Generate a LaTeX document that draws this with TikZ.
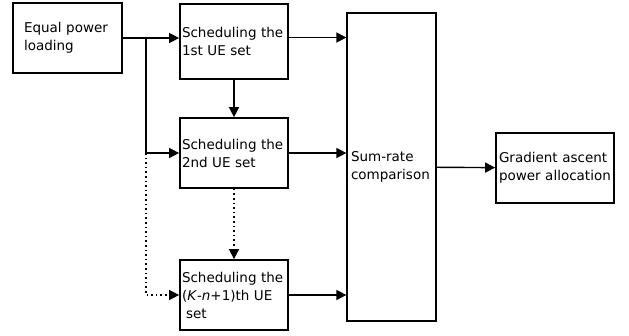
\documentclass[tikz,border=0pt]{standalone}
\usepackage{fontspec}
\setmainfont{DejaVu Sans}
\usepackage{tikz}
\usetikzlibrary{arrows.meta, positioning}

\tikzset{
    blk/.style={draw, line width=1.7pt, align=left, inner ysep=0pt,
        font=\fontsize{13.5}{18}\selectfont},
    arr/.style={-{Triangle[length=10pt,width=10pt]}, line width=1.4pt},
    dotarr/.style={arr, dash pattern=on 1.6pt off 3pt},
}

\begin{document}
\begin{tikzpicture}[x=1pt, y=-1pt]
    \useasboundingbox (0,0) rectangle (629,335);

    \node[blk, minimum width=109pt, minimum height=70pt, text width=87pt, inner xsep=11pt] (epl) at (67.5,38) {Equal power\\loading};
    \node[blk, minimum width=108pt, minimum height=75pt, text width=104pt, inner xsep=2pt] (s1) at (234,41.5) {Scheduling the\\1st UE set};
    \node[blk, minimum width=108pt, minimum height=70pt, text width=104pt, inner xsep=2pt] (s2) at (234,153) {Scheduling the\\2nd UE set};
    \node[blk, minimum width=108pt, minimum height=70pt, text width=104pt, inner xsep=2pt] (s3) at (234,295) {Scheduling the\\(\textit{K}-\textit{n}+1)th UE\\\hspace*{0.3em}set};
    \node[blk, line width=1.2pt, minimum width=89pt, minimum height=308pt, text width=81pt, inner xsep=4pt] (sr) at (391.5,167) {Sum-rate\\comparison};
    \node[blk, minimum width=118pt, minimum height=70pt, text width=112pt, inner xsep=3pt] (ga) at (555,168) {Gradient ascent\\power allocation};

    \coordinate (j) at (146,38);

    \draw[arr] (epl.east) -- (epl.east -| s1.west);
    \draw[arr] (j) |- (s2.west);
    \draw[dotarr] (j |- s2.west) |- (s3.west);
    \draw[arr] (s1) -- (s2);
    \draw[dotarr] (s2) -- (s3);

    \draw[arr] ([yshift=4pt]s1.east) -- ([yshift=4pt]s1.east -| sr.west);
    \draw[arr] (s2.east) -- (s2.east -| sr.west);
    \draw[arr] (s3.east) -- (s3.east -| sr.west);
    \draw[arr] (sr) -- (ga);
\end{tikzpicture}
\end{document}
